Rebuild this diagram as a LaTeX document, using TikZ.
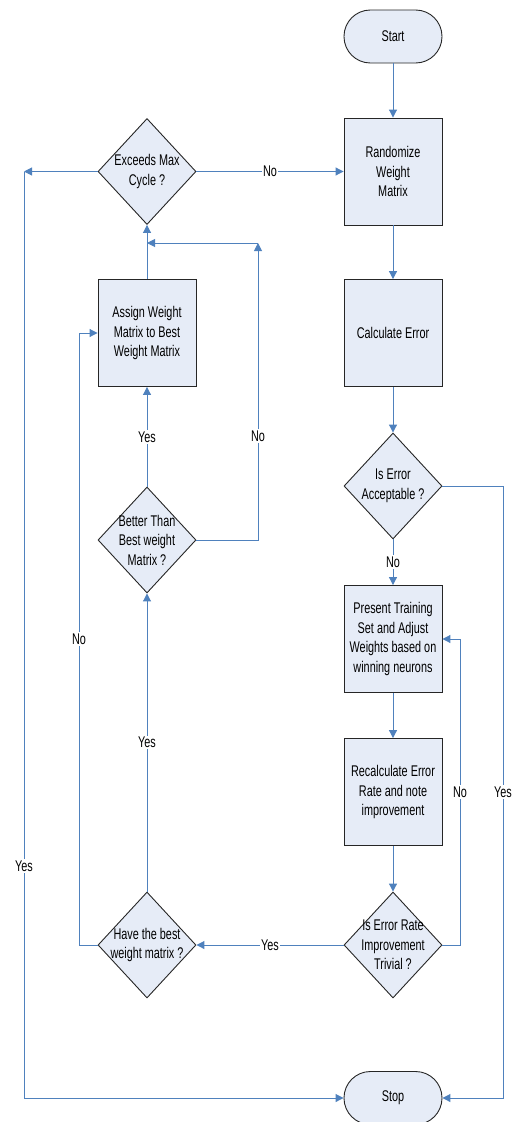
\documentclass[tikz,border=0pt]{standalone}
\usepackage{fontspec}
\setmainfont[FakeStretch=0.7]{Liberation Sans}
\usetikzlibrary{shapes.geometric,arrows.meta}
\definecolor{boxfill}{RGB}{230,236,247}
\definecolor{flowblue}{RGB}{79,129,189}

\begin{document}
\begin{tikzpicture}[x=1pt,y=-1pt,
  every node/.style={font=\fontsize{15.5}{19.5}\selectfont},
  shapebase/.style={draw=black!85, fill=boxfill, line width=0.9pt, inner sep=0pt},
  proc/.style={shapebase, minimum width=98pt, minimum height=107pt, align=center},
  term/.style={shapebase, minimum width=98pt, minimum height=53pt, rounded corners=26.4pt},
  dec/.style={shapebase, diamond, minimum width=98pt, minimum height=106pt},
  dectext/.style={align=center, inner sep=0pt},
  link/.style={draw=flowblue, line width=1pt},
  arr/.style={link, -{Triangle[length=8pt,width=8pt]}},
  lbl/.style={fill=white, inner sep=1.5pt},
]
\useasboundingbox (0,0) rectangle (516,1122);

% right column: main training loop
\node[term] (start) at (393,36.5) {Start};
\node[proc] (rand) at (393,171.5) {Randomize\\Weight\\Matrix};
\node[proc] (calc) at (393,333) {Calculate Error};
\node[dec, label={[dectext]center:Is Error\\Acceptable ?}] (acc) at (393,486) {};
\node[proc] (pres) at (393,639) {Present Training\\Set and Adjust\\Weights based on\\winning neurons};
\node[proc] (recalc) at (393,792) {Recalculate Error\\Rate and note\\improvement};
\node[dec, label={[dectext]center:Is Error Rate\\Improvement\\Trivial ?}] (triv) at (393,945) {};
\node[term] (stop) at (393,1098) {Stop};

% left column: best-matrix bookkeeping
\node[dec, label={[dectext]center:Exceeds Max\\Cycle ?}] (exceeds) at (147,171.5) {};
\node[proc] (assign) at (147,333) {Assign Weight\\Matrix to Best\\Weight Matrix};
\node[dec, label={[dectext]center:Better Than\\Best weight\\Matrix ?}] (better) at (147,540) {};
\node[dec, label={[dectext]center:Have the best\\weight matrix ?}] (havebest) at (147,945) {};

% routing points
\coordinate (accR) at (503,486);
\coordinate (trivR) at (460,945);
\coordinate (hbL) at (79,945);
\coordinate (btR) at (258,540);
\coordinate (btTop) at (258,243);
\coordinate (merge) at (147,243);
\coordinate (exL) at (24,171.5);

% main flow
\draw[arr] (start) -- (rand);
\draw[arr] (rand) -- (calc);
\draw[arr] (calc) -- (acc);
\draw[arr] (acc) -- node[lbl]{No} (pres);
\draw[arr] (acc.east) -- (accR) |- node[lbl,pos=0.25]{Yes} (stop.east);
\draw[arr] (pres) -- (recalc);
\draw[arr] (recalc) -- (triv);
\draw[arr] (triv.east) -- (trivR) |- node[lbl,pos=0.25]{No} (pres.east);
\draw[arr] (triv.west) -- node[lbl]{Yes} (havebest.east);

% left loop
\draw[arr] (havebest.north) -- node[lbl]{Yes} (better.south);
\draw[arr] (havebest.west) -- (hbL) |- node[lbl,pos=0.25]{No} (assign.west);
\draw[arr] (better.north) -- node[lbl]{Yes} (assign.south);
\draw[arr] (better.east) -- (btR) -- node[lbl,pos=0.35]{No} (btTop);
\draw[arr] (btTop) -- (merge);
\draw[arr] (assign.north) -- (exceeds.south);
\draw[arr] (exceeds.east) -- node[lbl]{No} (rand.west);
\draw[arr] (exceeds.west) -- (exL);
\draw[arr] (exL) |- node[lbl,pos=0.375]{Yes} (stop.west);
\end{tikzpicture}
\end{document}
